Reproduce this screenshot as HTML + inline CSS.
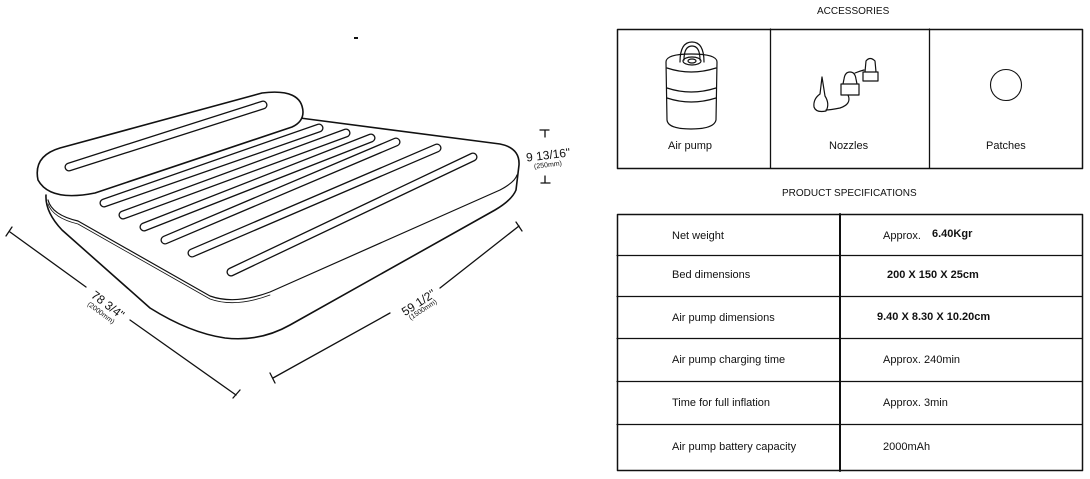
<!DOCTYPE html>
<html><head><meta charset="utf-8"><style>
html,body{margin:0;padding:0;background:#fff;}
body{width:1090px;height:479px;position:relative;overflow:hidden;font-family:"Liberation Sans",sans-serif;color:#111;}
.t{position:absolute;font-size:11px;white-space:nowrap;}
.b{font-weight:bold;font-size:11px;}
</style></head><body>
<svg width="1090" height="479" style="position:absolute;left:0;top:0" fill="none" stroke="#111" stroke-linecap="round" stroke-linejoin="round">
<path d="M300,118 L500,144 Q520,148 519,165 L516,190 Q512,200 495,210 L290,325 Q260,342 225,338 Q190,333 150,308 L62,230 Q45,212 46,195" stroke-width="1.6"/>
<path d="M48,200 Q52,215 78,221 L210,296 Q235,305 270,292 L500,190 Q515,182 517,175" stroke-width="1.2"/>
<path d="M48,204 Q53,218 78,224 L210,299 Q235,308 270,295" stroke-width="0.8"/>
<path d="M60,148 L262,93 Q302,88 303,112 Q303,122 292,127 L95,193 Q50,202 38,180 Q33,156 60,148 Z" fill="#fff" stroke-width="1.6"/>
<g stroke-width="9"><path d="M69,167 L263,105"/><path d="M104,203 L319,128"/><path d="M123,215 L346,133"/><path d="M144,227 L371,138"/><path d="M165,240 L396,142"/><path d="M192,253 L437,148"/><path d="M231,272 L473,157"/></g>
<g stroke-width="6.4" stroke="#fff"><path d="M69,167 L263,105"/><path d="M104,203 L319,128"/><path d="M123,215 L346,133"/><path d="M144,227 L371,138"/><path d="M165,240 L396,142"/><path d="M192,253 L437,148"/><path d="M231,272 L473,157"/></g>
<g stroke-width="1.3">
<path d="M10,232 L86,287 M130,320 L236,395"/><path d="M6,236 L12,227 M233,398 L240,390"/>
<path d="M273,378 L390,313 M440,288 L519,226"/><path d="M270,373 L275,383 M516,222 L522,231"/>
<path d="M540,130 L549,130 M545,130 L545,137 M541,183 L550,183 M545,176 L545,183"/>
</g>
<rect x="354" y="37" width="4" height="2" fill="#111" stroke="none"/>
<rect x="617.5" y="29.5" width="465" height="139" stroke-width="1.5"/>
<path d="M770.5,29 V168 M929.5,29 V168" stroke-width="1.3"/>
<g stroke-width="1.2">
<path d="M666,62 Q666,54 691,54 Q717,54 717,62 L716,120 Q714,129 691,129 Q668,129 667,120 Z"/>
<path d="M667,88 Q691,96 716,88 M667,98 Q691,106 716,98"/>
<path d="M667,68 Q691,76 716,68"/>
<ellipse cx="692" cy="61" rx="9" ry="4"/><ellipse cx="692" cy="61" rx="4" ry="2"/>
<path d="M680,62 Q680,42 692,42 Q704,42 704,62"/><path d="M684,60 Q684,46 692,46 Q700,46 700,60"/>
</g>
<g stroke-width="1.2">
<path d="M822,77 L820,94 Q813,99 814,107 Q816,113 826,111 Q830,104 825,96 Z"/>
<path d="M844,79 Q845,72 850,72 Q855,72 856,79 L857,84 H843 Z M841,84 H859 V95 H841 Z"/>
<path d="M865,72 L866,61 Q870,56 875,61 L876,72 Z M863,72 H878 V81 H863 Z"/>
<path d="M855,73 Q860,71 864,70 M848,95 Q852,104 840,108 Q830,110 826,110"/>
</g>
<circle cx="1006" cy="85" r="15.5" stroke-width="1.1"/>
<rect x="617.5" y="214.5" width="465" height="256" stroke-width="1.5"/>
<path d="M840,214 V471" stroke-width="2"/>
<path d="M617,255.5 H1082 M617,296.5 H1082 M617,338.5 H1082 M617,381.5 H1082 M617,424.5 H1082" stroke-width="1.2"/>
</svg>
<div class="t" style="left:97px;top:288px;transform:rotate(37deg);transform-origin:0 0;font-size:12px">78 3/4"</div>
<div class="t" style="left:90px;top:301px;transform:rotate(37deg);transform-origin:0 0;font-size:7px">(2000mm)</div>
<div class="t" style="left:399px;top:307px;transform:rotate(-33deg);transform-origin:0 0;font-size:12px">59 1/2"</div>
<div class="t" style="left:408px;top:316px;transform:rotate(-33deg);transform-origin:0 0;font-size:7px">(1500mm)</div>
<div class="t" style="left:526px;top:148px;transform:rotate(-7deg);font-size:12px">9 13/16"</div>
<div class="t" style="left:534px;top:162px;transform:rotate(-7deg);font-size:7px">(250mm)</div>
<div class="t" style="left:817px;top:6px;font-size:10px">ACCESSORIES</div>
<div class="t" style="left:668px;top:140px">Air pump</div>
<div class="t" style="left:829px;top:140px">Nozzles</div>
<div class="t" style="left:986px;top:140px">Patches</div>
<div class="t" style="left:782px;top:188px;font-size:10px">PRODUCT SPECIFICATIONS</div>
<div class="t" style="left:672px;top:230px">Net weight</div>
<div class="t" style="left:883px;top:230px">Approx.</div>
<div class="t b" style="left:932px;top:228px">6.40Kgr</div>
<div class="t" style="left:672px;top:269px">Bed dimensions</div>
<div class="t b" style="left:887px;top:269px">200 X 150 X 25cm</div>
<div class="t" style="left:672px;top:312px">Air pump dimensions</div>
<div class="t b" style="left:877px;top:311px">9.40 X 8.30 X 10.20cm</div>
<div class="t" style="left:672px;top:354px">Air pump charging time</div>
<div class="t" style="left:883px;top:354px">Approx. 240min</div>
<div class="t" style="left:672px;top:397px">Time for full inflation</div>
<div class="t" style="left:883px;top:397px">Approx. 3min</div>
<div class="t" style="left:672px;top:441px">Air pump battery capacity</div>
<div class="t" style="left:883px;top:441px">2000mAh</div>
</body></html>
